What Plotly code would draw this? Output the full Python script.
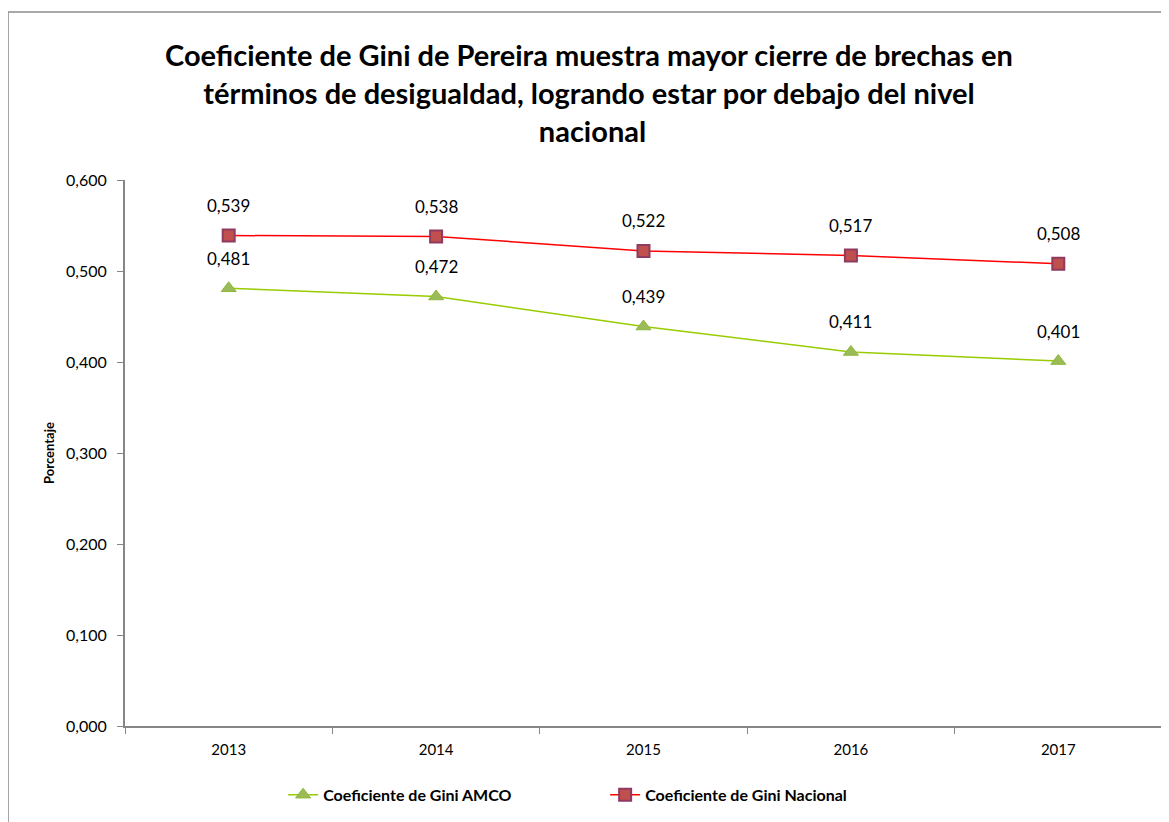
import plotly.graph_objects as go

years = ["2013", "2014", "2015", "2016", "2017"]
gini_amco = [0.481, 0.472, 0.439, 0.411, 0.401]
gini_nacional = [0.539, 0.538, 0.522, 0.517, 0.508]
label_amco = ["0,481", "0,472", "0,439", "0,411", "0,401"]
label_nacional = ["0,539", "0,538", "0,522", "0,517", "0,508"]

title = ("<b>Coeficiente de Gini de Pereira muestra mayor cierre de brechas en <br>"
         "términos de desigualdad, logrando estar por debajo del nivel <br>"
         "nacional</b>")

font_main = "Lato, 'Open Sans', sans-serif"

fig = go.Figure()

fig.add_trace(go.Scatter(
    x=years, y=gini_amco, name="<b>Coeficiente de Gini AMCO</b>",
    mode="lines+markers",
    line=dict(color="#99CC00", width=1.5),
    marker=dict(symbol="triangle-up", size=13, color="#9BBB59",
                line=dict(color="#8DB83A", width=1)),
))
fig.add_trace(go.Scatter(
    x=years, y=gini_nacional, name="<b>Coeficiente de Gini Nacional</b>",
    mode="lines+markers",
    line=dict(color="#FF0000", width=1.5),
    marker=dict(symbol="square", size=12, color="#C0504D",
                line=dict(color="#8E3A62", width=2)),
))

# data labels (category index used as x so the axis places them)
for ys, labels in [(gini_amco, label_amco), (gini_nacional, label_nacional)]:
    for i, (y, t) in enumerate(zip(ys, labels)):
        fig.add_annotation(x=i, y=y, text=t, showarrow=False, yshift=30,
                           font=dict(size=17, color="#000000", family=font_main))

# chart-area border (top and left edges visible)
fig.add_shape(type="line", xref="paper", yref="paper",
              x0=-0.1128, x1=1.02, y0=1.3077, y1=1.3077,
              line=dict(color="#8C8C8C", width=1.5))
fig.add_shape(type="line", xref="paper", yref="paper",
              x0=-0.1128, x1=-0.1128, y0=1.3077, y1=-0.2,
              line=dict(color="#8C8C8C", width=1.5))

fig.update_layout(
    width=1169, height=822,
    paper_bgcolor="white", plot_bgcolor="white",
    margin=dict(l=117, r=15, t=172, b=104, autoexpand=False),
    separators=",.",
    font=dict(family=font_main, color="#000000"),
    title=dict(text=title, x=0.5, xanchor="center", y=0.929, yanchor="top",
               font=dict(size=29, family=font_main, color="#000000")),
    showlegend=True,
    legend=dict(orientation="h", x=0.463, xanchor="center", y=-0.126, yanchor="middle",
                font=dict(size=16, family=font_main),
                entrywidth=277, entrywidthmode="pixels"),
    xaxis=dict(type="category", range=[-0.5, 4.5], showline=True, automargin=False,
               linecolor="#868686", linewidth=2, ticks="outside",
               tickson="boundaries", ticklen=6, tickcolor="#868686",
               ticklabelstandoff=9,
               tickfont=dict(size=15), showgrid=False, zeroline=False),
    yaxis=dict(range=[0, 0.6], dtick=0.1, tickformat=".3f", showline=True,
               automargin=False,
               linecolor="#868686", linewidth=2, ticks="outside", ticklen=6,
               tickcolor="#868686", ticklabelstandoff=7,
               tickfont=dict(size=16), showgrid=False,
               zeroline=False,
               title=dict(text="<b>Porcentaje</b>", font=dict(size=13), standoff=8)),
)

fig.write_html("out.html")
